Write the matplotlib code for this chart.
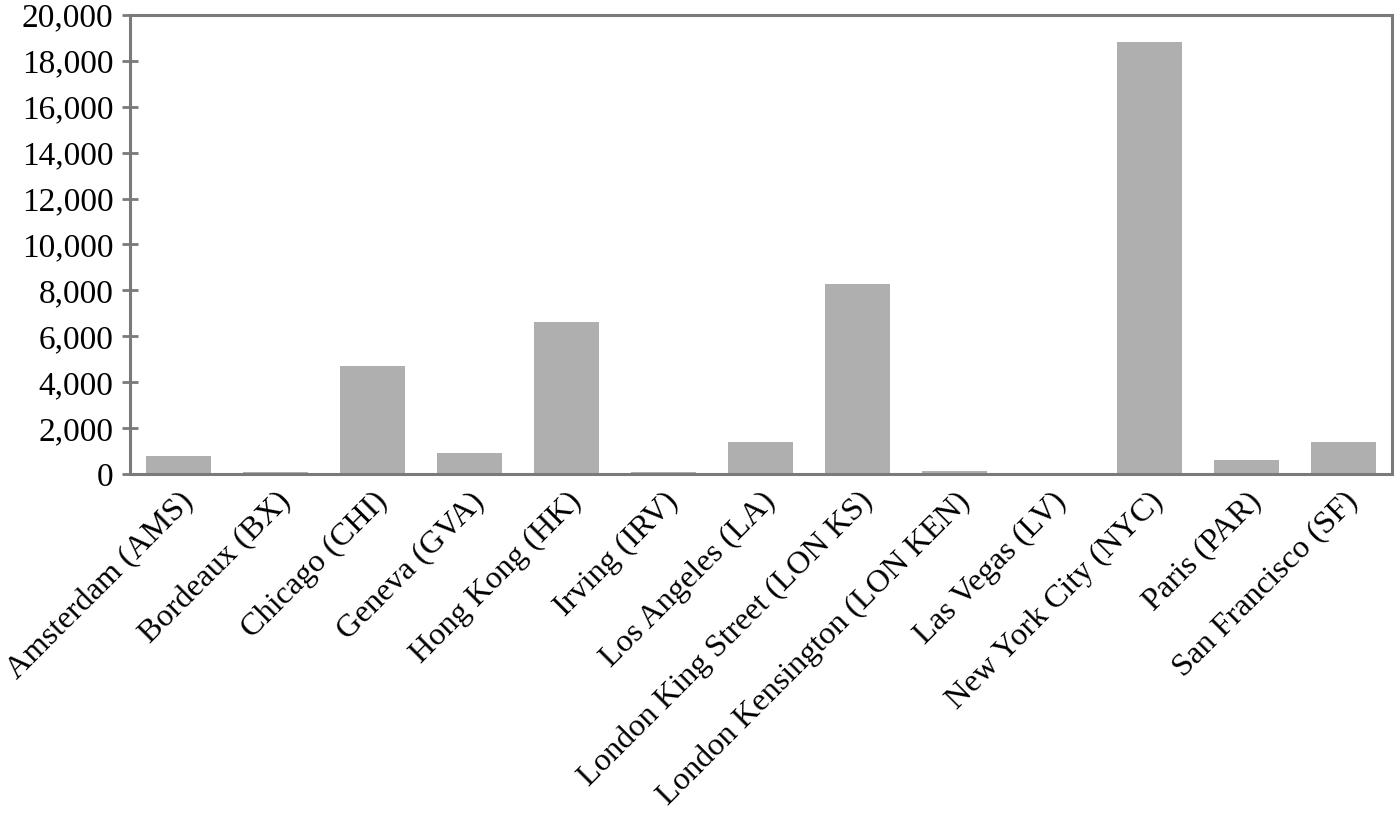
import matplotlib
matplotlib.use('Agg')
import matplotlib.pyplot as plt
from matplotlib.ticker import FuncFormatter

sitios = ['Amsterdam (AMS)', 'Bordeaux (BX)', 'Chicago (CHI)', 'Geneva (GVA)',
          'Hong Kong (HK)', 'Irving (IRV)', 'Los Angeles (LA)',
          'London King Street (LON KS)', 'London Kensington (LON KEN)',
          'Las Vegas (LV)', 'New York City (NYC)', 'Paris (PAR)',
          'San Francisco (SF)']
valores = [790, 80, 4700, 930, 6620, 80, 1400, 8280, 160, 60, 18800, 620, 1400]

plt.rcParams['font.family'] = ['Liberation Serif', 'DejaVu Serif']

fig = plt.figure(figsize=(14, 8.19), dpi=100)
ax = fig.add_axes([0.093, 0.421, 0.901, 0.561])

x = range(len(sitios))
ax.bar(x, valores, width=0.67, color='#afafaf', edgecolor='none', zorder=2)

ax.set_xlim(-0.5, len(sitios) - 0.5)
ax.set_ylim(0, 20000)
ax.set_yticks(range(0, 20001, 2000))
ax.yaxis.set_major_formatter(FuncFormatter(lambda v, p: '{:,.0f}'.format(v)))
ax.set_xticks(list(x))
ax.set_xticklabels(sitios, rotation=45, ha='right', rotation_mode='anchor')

for s in ax.spines.values():
    s.set_color('#7a7a7a')
    s.set_linewidth(2.2)
ax.tick_params(axis='y', direction='inout', length=12, width=2, color='#7a7a7a',
               labelsize=24, pad=6)
ax.tick_params(axis='x', length=0, labelsize=23.3, pad=9)

plt.savefig('out.png', dpi=100)
